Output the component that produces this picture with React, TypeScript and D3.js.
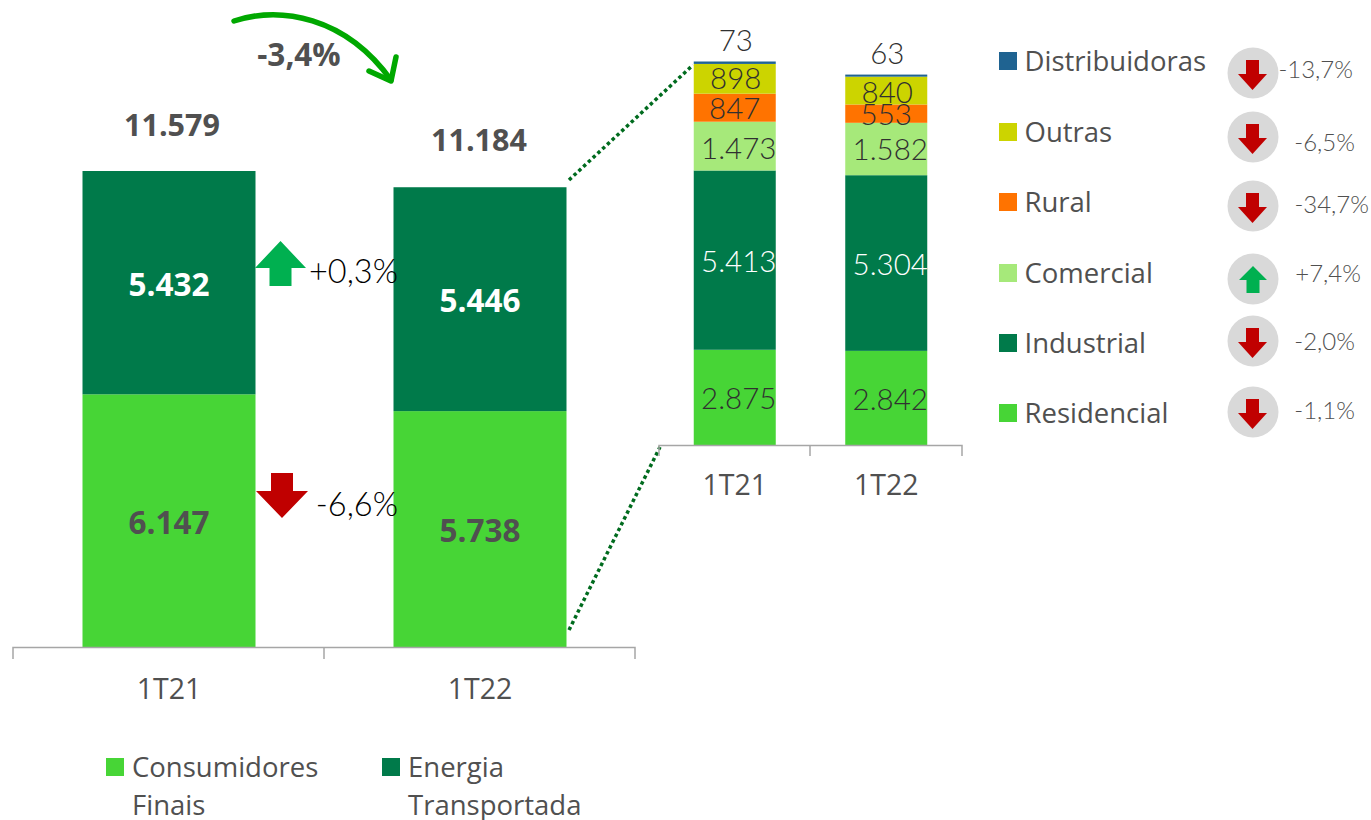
import React from "react";
import * as d3 from "d3";

const periods = ["1T21", "1T22"];
const consumidores = [6147, 5738];
const transportada = [5432, 5446];
const mainLabels = [["6.147", "5.432"], ["5.738", "5.446"]];
const mainTotals = ["11.579", "11.184"];
const mainColors = ["#47D536", "#007A4A"];
const mainLabelColors = ["#505050", "#FFFFFF"];

const segmentNames = ["Residencial", "Industrial", "Comercial", "Rural", "Outras", "Distribuidoras"];
const segColors = ["#47D536", "#007A4A", "#A6E97A", "#FF7300", "#CCD400", "#1F6391"];
const seg1T21 = [2875, 5413, 1473, 847, 898, 73];
const seg1T22 = [2842, 5304, 1582, 553, 840, 63];
const segLabels1T21 = ["2.875", "5.413", "1.473", "847", "898", "73"];
const segLabels1T22 = ["2.842", "5.304", "1.582", "553", "840", "63"];
const changes = ["-1,1%", "-2,0%", "+7,4%", "-34,7%", "-6,5%", "-13,7%"];

const FONT_A = "Lato, 'Open Sans', sans-serif";
const FONT_B = "'Open Sans', 'Noto Sans', sans-serif";
const GREY = "#505050";
const RED = "#C00000";
const UP = "#00B050";

const xMain = d3.scaleBand<string>().domain(periods).range([13, 635]).paddingInner(0).paddingOuter(0);
const yMain = d3.scaleLinear().domain([0, 11579]).range([647, 171]);
const xSeg = d3.scaleBand<string>().domain(periods).range([659, 962]);
const ySeg = d3.scaleLinear().domain([0, 11579]).range([445, 61.5]);

const mainBarW = 173;
const segBarW = 82;

function arrowDown(cx: number, top: number, stemW: number, headW: number, neck: number, tip: number) {
  return `M${cx - stemW / 2},${top}H${cx + stemW / 2}V${neck}H${cx + headW / 2}L${cx},${tip}L${cx - headW / 2},${neck}H${cx - stemW / 2}Z`;
}
function arrowUp(cx: number, tip: number, stemW: number, headW: number, neck: number, bottom: number) {
  return `M${cx},${tip}L${cx + headW / 2},${neck}H${cx + stemW / 2}V${bottom}H${cx - stemW / 2}V${neck}H${cx - headW / 2}Z`;
}

const legendY = [413, 343, 273, 202, 132, 61];
const circleY = [412, 341, 279, 206, 137, 73];
const changeY = [411, 342, 274, 205, 143, 70];
const changeX = [1355, 1355, 1361, 1369, 1355, 1353];
const segLabelDy1 = [1, 1, 2, 0, -1, -1];
const segLabelDy2 = [1, 1, 0, 0, 1, -1];
const segLabelDx = [4, 4, 4, 0, 1, 1];
const totalDx = [3, -1];
const totalDy = [0, -1];

export default function App() {
  const mainStack = periods.map((p, i) => {
    const parts = [consumidores[i], transportada[i]];
    let acc = 0;
    return parts.map((v) => {
      const d = { y0: acc, y1: acc + v };
      acc += v;
      return d;
    });
  });
  const segSeries = [seg1T21, seg1T22];
  const segLbls = [segLabels1T21, segLabels1T22];
  const segDy = [segLabelDy1, segLabelDy2];
  const segStack = segSeries.map((vals) => {
    let acc = 0;
    return vals.map((v) => {
      const d = { y0: acc, y1: acc + v };
      acc += v;
      return d;
    });
  });

  return (
    <svg width={1371} height={820} style={{ position: "absolute", left: 0, top: 0, background: "#fff" }}>
      {/* main bars */}
      {periods.map((p, i) => {
        const cx = xMain(p)! + xMain.bandwidth() / 2 + 0.5;
        return (
          <g key={p}>
            {mainStack[i].map((d, k) => (
              <g key={k}>
                <rect x={cx - mainBarW / 2} width={mainBarW} y={yMain(d.y1)} height={yMain(d.y0) - yMain(d.y1)} fill={mainColors[k]} />
                <text x={cx} y={(yMain(d.y0) + yMain(d.y1)) / 2 + 13} textAnchor="middle" fontFamily={FONT_B} fontWeight={700} fontSize={31.5} fill={mainLabelColors[k]}>
                  {mainLabels[i][k]}
                </text>
              </g>
            ))}
            <text x={cx + totalDx[i]} y={yMain(mainStack[i][1].y1) - 35 + totalDy[i]} textAnchor="middle" fontFamily={FONT_B} fontWeight={700} fontSize={30.5} fill={GREY}>
              {mainTotals[i]}
            </text>
            <text x={cx} y={699} textAnchor="middle" fontFamily={FONT_B} fontSize={28.5} fill={GREY}>{p}</text>
          </g>
        );
      })}
      <path d="M13,659V647.5H635V659M324,647.5V659" fill="none" stroke="#A6A6A6" strokeWidth={1.5} />

      {/* main change arrows */}
      <path d={arrowUp(280.5, 241, 22, 51, 268, 286)} fill={UP} />
      <text x={398} y={283} textAnchor="end" fontFamily={FONT_A} fontWeight={300} fontSize={32.5} fill="#000">+0,3%</text>
      <path d={arrowDown(282, 473, 22, 52, 491, 518)} fill={RED} />
      <text x={398} y={516} textAnchor="end" fontFamily={FONT_A} fontWeight={300} fontSize={32.5} fill="#000">-6,6%</text>

      {/* curved arrow */}
      <path d="M234,21C280,6 345,16 391,80" fill="none" stroke="#00A800" strokeWidth={5.5} strokeLinecap="round" />
      <path d="M369,71L391,81L396,57" fill="none" stroke="#00A800" strokeWidth={5.5} strokeLinecap="round" strokeLinejoin="round" />
      <text x={299} y={66} textAnchor="middle" fontFamily={FONT_B} fontWeight={700} fontSize={31.5} fill={GREY}>-3,4%</text>

      {/* connectors */}
      <line x1={569} y1={180} x2={693} y2={65} stroke="#006B1E" strokeWidth={3.5} strokeDasharray="3.5 3" />
      <line x1={569} y1={630} x2={660} y2={447} stroke="#006B1E" strokeWidth={3.5} strokeDasharray="3.5 3" />

      {/* segment bars */}
      {periods.map((p, i) => {
        const cx = xSeg(p)! + xSeg.bandwidth() / 2;
        return (
          <g key={p}>
            {segStack[i].map((d, k) => (
              <rect key={k} x={cx - segBarW / 2} width={segBarW} y={ySeg(d.y1)} height={ySeg(d.y0) - ySeg(d.y1)} fill={segColors[k]} />
            ))}
            {segStack[i].map((d, k) => {
              const top = k === 5;
              const y = top ? ySeg(d.y1) - 10 : (ySeg(d.y0) + ySeg(d.y1)) / 2 + 11;
              return (
                <text key={k} x={cx + segLabelDx[k]} y={y + segDy[i][k]} textAnchor="middle" fontFamily={FONT_A} fontWeight={300}
                  fontSize={29.5} fill={k === 1 ? "#FFFFFF" : "#303030"}>
                  {segLbls[i][k]}
                </text>
              );
            })}
            <text x={cx} y={495} textAnchor="middle" fontFamily={FONT_B} fontSize={28.5} fill={GREY}>{p}</text>
          </g>
        );
      })}
      <path d="M659,456V445.5H962V456M810,445.5V456" fill="none" stroke="#A6A6A6" strokeWidth={1.5} />

      {/* segment legend */}
      {segmentNames.map((name, k) => {
        const cy = circleY[k];
        const up = changes[k].startsWith("+");
        return (
          <g key={name}>
            <rect x={999} y={legendY[k] - 9} width={18} height={18} fill={segColors[k]} />
            <text x={1024.5} y={legendY[k] + 10} fontFamily={FONT_B} fontSize={27.5} fill={GREY}>{name}</text>
            <circle cx={1253} cy={cy} r={25.5} fill="#D9D9D9" />
            <path d={up ? arrowUp(1253, cy - 13, 13, 28, cy + 1, cy + 14) : arrowDown(1252.5, cy - 13, 13, 29, cy + 1, cy + 17)} fill={up ? UP : RED} />
            <text x={changeX[k]} y={changeY[k] + 8} textAnchor="end" fontFamily={FONT_A} fontWeight={300} fontSize={24} fill={GREY}>{changes[k]}</text>
          </g>
        );
      })}

      {/* main legend */}
      <rect x={106} y={758} width={18} height={18} fill={mainColors[0]} />
      <text fontFamily={FONT_B} fontSize={27.5} fill={GREY}>
        <tspan x={132} y={777}>Consumidores</tspan>
        <tspan x={132} y={815}>Finais</tspan>
      </text>
      <rect x={382} y={758} width={18} height={18} fill={mainColors[1]} />
      <text fontFamily={FONT_B} fontSize={27.5} fill={GREY}>
        <tspan x={408} y={777}>Energia</tspan>
        <tspan x={408} y={815}>Transportada</tspan>
      </text>
    </svg>
  );
}
